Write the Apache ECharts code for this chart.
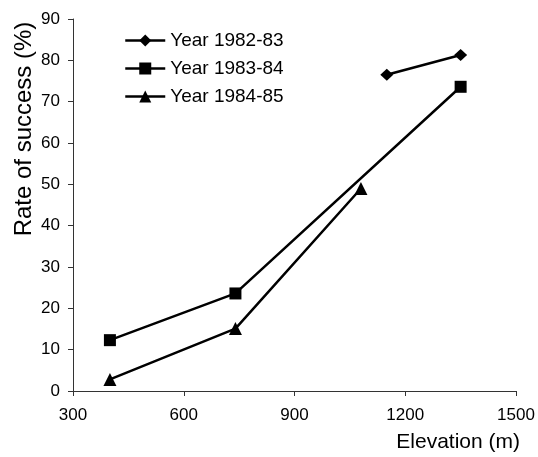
<!DOCTYPE html>
<html>
<head>
<meta charset="utf-8">
<script src="https://cdn.jsdelivr.net/npm/echarts@6/dist/echarts.min.js"></script>
<style>
  html, body { margin: 0; padding: 0; background: #fff; }
  #chartData { width: 538px; height: 457px; }
</style>
</head>
<body>
<div id="chartData"></div>
<script>
// series names
var seriesNames = ['Year 1982-83', 'Year 1983-84', 'Year 1984-85'];

// elevation (m) and rate of success (%) per year
var elev1 = [1150, 1350];
var rate1 = [76.5, 81.3];
var elev2 = [400, 740, 1350];
var rate2 = [12.3, 23.6, 73.6];
var elev3 = [400, 740, 1080];
var rate3 = [2.8, 15.1, 49];

// axis ticks
var xTicks = [300, 600, 900, 1200, 1500];
var yTicks = [0, 10, 20, 30, 40, 50, 60, 70, 80, 90];

var pairs = function(xs, ys) {
    var out = [];
    for (var i = 0; i < xs.length; i++) {
        out.push([xs[i], ys[i]]);
    }
    return out;
};

var font = '"Liberation Sans", Arial, sans-serif';
var axisColor = '#333';

var myChart = echarts.init(document.getElementById('chartData'));

var mkSeries = function(name, data, symbol, size) {
    return {
        name: name,
        type: 'line',
        data: data,
        symbol: symbol,
        symbolSize: size,
        showAllSymbol: true,
        lineStyle: { color: '#000', width: 2.5 },
        itemStyle: { color: '#000' },
        emphasis: { disabled: true },
        animation: false
    };
};

var option = {
    backgroundColor: '#fff',
    textStyle: { fontFamily: font },
    grid: {
        left: 73,
        right: 22,
        top: 19,
        bottom: 66,
        containLabel: false,
        outerBoundsMode: 'none'
    },
    legend: {
        orient: 'vertical',
        left: 119,
        top: 26,
        itemWidth: 40,
        itemHeight: 15,
        itemGap: 9,
        lineStyle: { width: 2.5 },
        textStyle: { fontSize: 19, color: '#000', fontFamily: font },
        data: seriesNames
    },
    xAxis: {
        type: 'value',
        min: xTicks[0],
        max: xTicks[xTicks.length - 1],
        interval: 300,
        name: 'Elevation (m)',
        nameLocation: 'end',
        nameGap: 4,
        nameMoveOverlap: false,
        nameTextStyle: {
            fontSize: 21,
            color: '#000',
            align: 'right',
            verticalAlign: 'top',
            padding: [41, 0, 0, 0],
            fontFamily: font
        },
        axisLine: { lineStyle: { color: axisColor, width: 1 } },
        axisTick: { show: true, length: 5, lineStyle: { color: axisColor } },
        axisLabel: {
            color: '#000', fontSize: 17, margin: 16, fontFamily: font,
            formatter: function(v) { return String(v); }
        },
        splitLine: { show: false }
    },
    yAxis: {
        type: 'value',
        min: yTicks[0],
        max: yTicks[yTicks.length - 1],
        interval: 10,
        name: 'Rate of success (%)',
        nameLocation: 'middle',
        nameGap: 37,
        nameRotate: 90,
        nameMoveOverlap: false,
        nameTextStyle: {
            fontSize: 24,
            color: '#000',
            padding: [0, 0, 0, 152],
            fontFamily: font
        },
        axisLine: { show: true, lineStyle: { color: axisColor, width: 1 } },
        axisTick: { show: true, length: 5, lineStyle: { color: axisColor } },
        axisLabel: { color: '#000', fontSize: 17, margin: 13, fontFamily: font },
        splitLine: { show: false }
    },
    series: [
        mkSeries(seriesNames[0], pairs(elev1, rate1), 'diamond', [13, 12]),
        mkSeries(seriesNames[1], pairs(elev2, rate2), 'rect', 12),
        mkSeries(seriesNames[2], pairs(elev3, rate3), 'triangle', 13)
    ]
};

myChart.setOption(option);
</script>
</body>
</html>
